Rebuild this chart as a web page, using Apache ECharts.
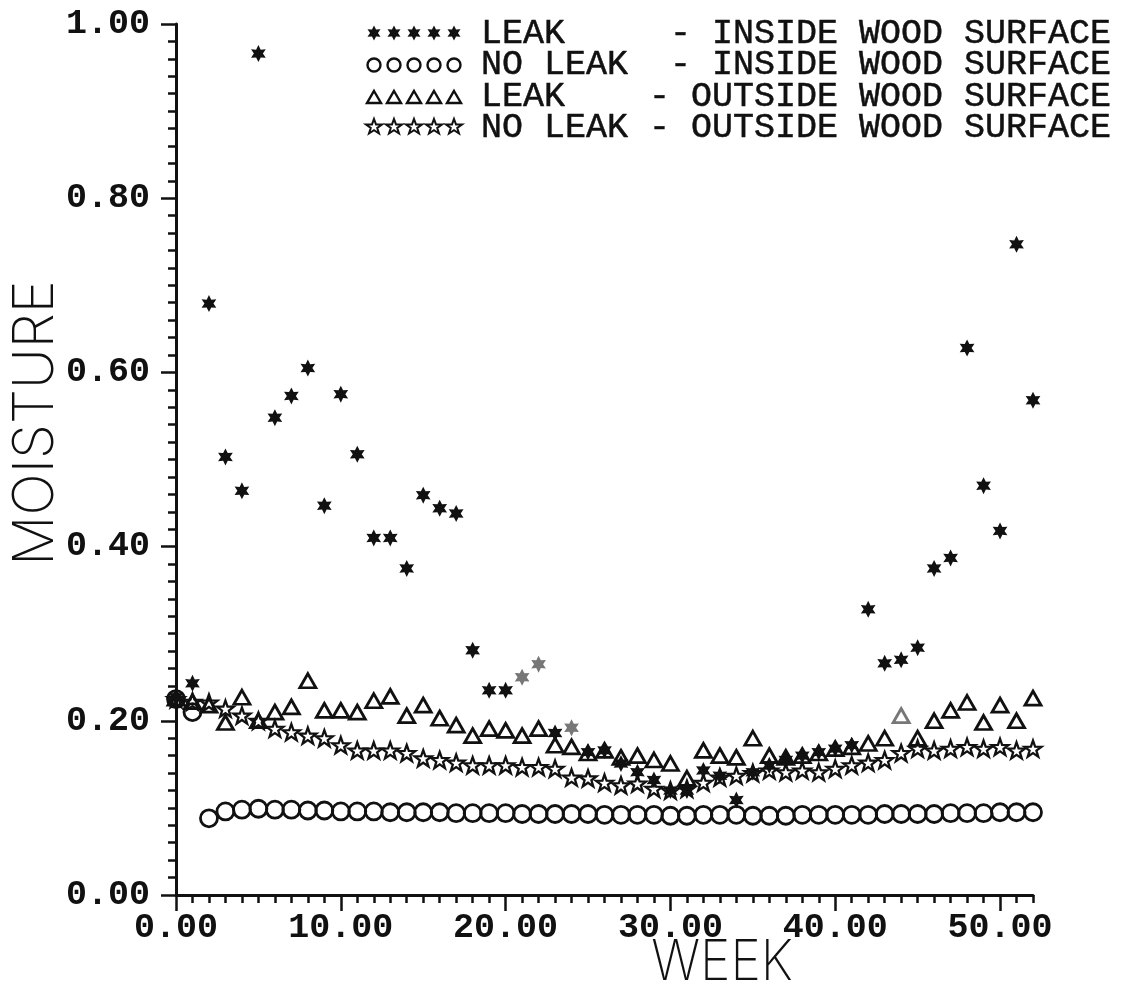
<!DOCTYPE html>
<html>
<head>
<meta charset="utf-8">
<script src="https://cdn.jsdelivr.net/npm/echarts@6/dist/echarts.min.js"></script>
<style>
  html, body { margin: 0; padding: 0; background: #ffffff; }
  #chart { width: 1139px; height: 1000px; }
</style>
</head>
<body>
<div id="chart"></div>
<script>
// Weekly moisture readings, week 0 through week 52
const weeks = [0,1,2,3,4,5,6,7,8,9,10,11,12,13,14,15,16,17,18,19,20,21,22,23,24,25,26,
  27,28,29,30,31,32,33,34,35,36,37,38,39,40,41,42,43,44,45,46,47,48,49,50,51,52];

const leakInside = [0.227,0.243,0.679,0.503,0.464,0.966,0.548,0.573,0.605,0.447,
  0.575,0.506,0.410,0.410,0.375,0.459,0.444,0.438,0.281,0.235,
  0.235,0.250,0.265,0.186,0.192,0.164,0.166,0.151,0.141,0.132,
  0.120,0.120,0.143,0.137,0.109,0.141,0.149,0.155,0.160,0.164,
  0.168,0.172,0.328,0.266,0.270,0.284,0.375,0.387,0.628,0.470,
  0.418,0.747,0.568];

const noLeakInside = [0.225,0.210,0.088,0.096,0.098,0.099,0.098,0.098,0.097,0.097,
  0.096,0.096,0.096,0.095,0.095,0.095,0.095,0.094,0.094,0.094,
  0.094,0.093,0.093,0.093,0.093,0.093,0.092,0.092,0.092,0.092,
  0.091,0.091,0.092,0.092,0.092,0.091,0.091,0.091,0.092,0.092,
  0.092,0.092,0.092,0.093,0.093,0.093,0.093,0.094,0.094,0.094,
  0.095,0.095,0.095];

const leakOutside = [0.226,0.222,0.218,0.198,0.227,0.200,0.210,0.216,0.246,0.212,
  0.212,0.210,0.223,0.228,0.206,0.218,0.203,0.195,0.183,0.191,
  0.189,0.183,0.191,0.172,0.170,0.163,0.166,0.158,0.160,0.155,
  0.151,0.134,0.166,0.160,0.158,0.180,0.160,0.158,0.160,0.163,
  0.168,0.170,0.174,0.180,0.206,0.180,0.200,0.212,0.221,0.198,
  0.218,0.200,0.226];

const noLeakOutside = [0.225,0.222,0.221,0.214,0.206,0.200,0.191,0.187,0.183,0.180,
  0.172,0.166,0.166,0.166,0.163,0.157,0.155,0.152,0.149,0.149,
  0.149,0.147,0.147,0.145,0.135,0.134,0.129,0.126,0.128,0.122,
  0.120,0.122,0.129,0.135,0.137,0.140,0.143,0.141,0.143,0.141,
  0.145,0.149,0.152,0.155,0.163,0.168,0.166,0.168,0.170,0.168,
  0.170,0.166,0.168];

// Labelled ticks on each axis
const weekTicks = [0,10,20,30,40,50];
const moistureTicks = [0,0.2,0.4,0.6,0.8,1.0];

// Legend lines (monospaced, so the columns line up)
const legendLines = [
  'LEAK     - INSIDE WOOD SURFACE',
  'NO LEAK  - INSIDE WOOD SURFACE',
  'LEAK    - OUTSIDE WOOD SURFACE',
  'NO LEAK - OUTSIDE WOOD SURFACE'
];

const INK = '#111111';
const FADED = '#777777';
const MONO = '"Liberation Mono", "DejaVu Sans Mono", monospace';
const TITLE_FONT = 'Inter, Lato, Roboto, sans-serif';

// Plotter-style marker outlines on a 20x20 box
const ASTERISK_PTS = [[10,0],[12.7,5.4],[18.66,5],[15.3,10],[18.66,15],[12.7,14.6],
  [10,20],[7.3,14.6],[1.34,15],[4.7,10],[1.34,5],[7.3,5.4]];
const STAR_PTS = [[10,0],[12.35,6.76],[19.51,6.91],[13.8,11.24],[15.88,18.09],
  [10,14],[4.12,18.09],[6.2,11.24],[0.49,6.91],[7.65,6.76]];

function toSymbolPath(pts) {
  return 'path://' + pts.map((p, i) => (i ? 'L' : 'M') + p[0] + ' ' + p[1]).join('') + 'Z';
}
function placed(pts, cx, cy, w, h) {
  return pts.map(p => [cx + (p[0] - 10) * w / 20, cy + (p[1] - 10) * h / 20]);
}

const ASTERISK = toSymbolPath(ASTERISK_PTS);
const STAR5 = toSymbolPath(STAR_PTS);

// Points drawn with a lighter pen
const fadedLeakInside = [21, 22, 24];
const fadedLeakOutside = [44];

function points(values, faded, fadedStyle) {
  return weeks.map((w, i) => faded.indexOf(i) >= 0
    ? { value: [w, values[i]], itemStyle: fadedStyle }
    : [w, values[i]]);
}

const hollow = { color: 'rgba(0,0,0,0)', borderColor: INK, borderWidth: 2.8, opacity: 1 };

const chart = echarts.init(document.getElementById('chart'), null, { renderer: 'canvas' });

// Legend: five small copies of each marker in front of its text
const graphics = [];
const rowY = [33, 64, 96, 127];
const iconX0 = 374, iconStep = 20;
rowY.forEach((y, row) => {
  for (let k = 0; k < 5; k++) {
    const cx = iconX0 + k * iconStep;
    if (row === 0) {
      graphics.push({ type: 'polygon', silent: true,
        shape: { points: placed(ASTERISK_PTS, cx, y, 15, 15) },
        style: { fill: INK } });
    } else if (row === 1) {
      graphics.push({ type: 'circle', silent: true,
        shape: { cx: cx, cy: y + 1, r: 6.5 },
        style: { fill: 'none', stroke: INK, lineWidth: 2.4 } });
    } else if (row === 2) {
      graphics.push({ type: 'polygon', silent: true,
        shape: { points: [[cx, y - 5], [cx + 7, y + 7], [cx - 7, y + 7]] },
        style: { fill: 'none', stroke: INK, lineWidth: 2.4 } });
    } else {
      graphics.push({ type: 'polygon', silent: true,
        shape: { points: placed(STAR_PTS, cx, y, 17, 16) },
        style: { fill: 'none', stroke: INK, lineWidth: 2 } });
    }
  }
  graphics.push({ type: 'text', silent: true, x: 481, y: y + 1,
    style: { text: legendLines[row], font: '35px ' + MONO, fill: INK,
      stroke: INK, lineWidth: 0.5,
      textAlign: 'left', textVerticalAlign: 'middle' } });
});

// Axis titles
graphics.push({ type: 'text', silent: true, x: 36, y: 423, rotation: Math.PI / 2,
  style: { text: 'MOISTURE', font: '200 56px ' + TITLE_FONT, fill: INK,
    textAlign: 'center', textVerticalAlign: 'middle' } });
graphics.push({ type: 'text', silent: true, x: 722, y: 963, scaleX: 0.92,
  style: { text: 'WEEK', font: '200 56px ' + TITLE_FONT, fill: INK,
    textAlign: 'center', textVerticalAlign: 'middle' } });

const labelStyle = { color: INK, fontFamily: MONO, fontSize: 35, fontWeight: 'bold' };

chart.setOption({
  backgroundColor: '#ffffff',
  animation: false,
  grid: { left: 176, right: 106, top: 24, bottom: 105, containLabel: false, outerBoundsMode: 'none' },
  xAxis: [
    {
      type: 'value', min: 0, max: 52, interval: 1,
      axisLine: { show: true, lineStyle: { color: INK, width: 3 } },
      axisTick: { show: true, length: 8, lineStyle: { color: INK, width: 2.5 } },
      axisLabel: Object.assign({
        margin: 16,
        formatter: v => (v % 10 === 0 ? v.toFixed(2) : '')
      }, labelStyle),
      splitLine: { show: false }
    },
    {
      type: 'value', min: 0, max: 52, position: 'bottom',
      axisLine: { show: false },
      axisTick: { show: true, customValues: weekTicks, length: 16, lineStyle: { color: INK, width: 2.5 } },
      axisLabel: { show: false },
      splitLine: { show: false }
    }
  ],
  yAxis: [
    {
      type: 'value', min: 0, max: 1, interval: 0.02,
      axisLine: { show: true, lineStyle: { color: INK, width: 3 } },
      axisTick: { show: true, length: 8, lineStyle: { color: INK, width: 2.5 } },
      axisLabel: Object.assign({
        margin: 26,
        formatter: v => (Math.abs(v * 5 - Math.round(v * 5)) < 1e-6 ? v.toFixed(2) : '')
      }, labelStyle),
      splitLine: { show: false }
    },
    {
      type: 'value', min: 0, max: 1, position: 'left',
      axisLine: { show: false },
      axisTick: { show: true, customValues: moistureTicks, length: 15, lineStyle: { color: INK, width: 2.5 } },
      axisLabel: { show: false },
      splitLine: { show: false }
    }
  ],
  graphic: graphics,
  series: [
    {
      name: 'NO LEAK - INSIDE WOOD SURFACE', type: 'scatter',
      symbol: 'circle', symbolSize: 17,
      itemStyle: hollow,
      data: points(noLeakInside, [], null)
    },
    {
      name: 'LEAK - OUTSIDE WOOD SURFACE', type: 'scatter',
      symbol: 'triangle', symbolSize: [16, 14],
      itemStyle: hollow,
      data: points(leakOutside, fadedLeakOutside,
        { color: 'rgba(0,0,0,0)', borderColor: FADED, borderWidth: 2.8, opacity: 1 })
    },
    {
      name: 'NO LEAK - OUTSIDE WOOD SURFACE', type: 'scatter',
      symbol: STAR5, symbolSize: 17, symbolKeepAspect: true,
      itemStyle: { color: 'rgba(0,0,0,0)', borderColor: INK, borderWidth: 2.3, opacity: 1 },
      data: points(noLeakOutside, [], null)
    },
    {
      name: 'LEAK - INSIDE WOOD SURFACE', type: 'scatter',
      symbol: ASTERISK, symbolSize: 17, symbolKeepAspect: true,
      itemStyle: { color: INK, opacity: 1 },
      data: points(leakInside, fadedLeakInside, { color: FADED, opacity: 1 })
    }
  ]
});
</script>
</body>
</html>
